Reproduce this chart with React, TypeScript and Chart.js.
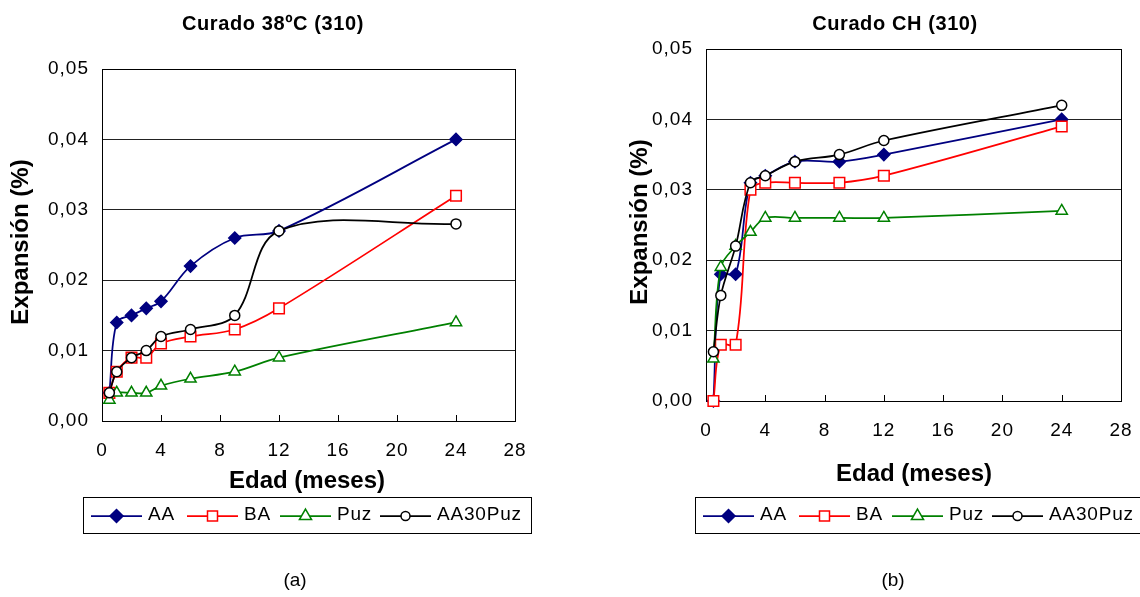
import React, { useEffect, useRef } from 'react';
import { Chart, registerables } from 'chart.js';

Chart.register(...registerables);

const FONT = "Arial, 'Liberation Sans', sans-serif";

// ---------- data ----------
const months = [0.5, 1, 2, 3, 4, 6, 9, 12, 24];
const xTickStep = 4;
const xMax = 28;
const yMax = 0.05;
const yTickStep = 0.01;
const seriesNames = ['AA', 'BA', 'Puz', 'AA30Puz'];

// Curado 38ºC (310)
const aa38 = [0.004, 0.014, 0.015, 0.016, 0.017, 0.022, 0.026, 0.027, 0.040];
const ba38 = [0.004, 0.007, 0.009, 0.009, 0.011, 0.012, 0.013, 0.016, 0.032];
const puz38 = [0.003, 0.004, 0.004, 0.004, 0.005, 0.006, 0.007, 0.009, 0.014];
const aa30puz38 = [0.004, 0.007, 0.009, 0.010, 0.012, 0.013, 0.015, 0.027, 0.028];

// Curado CH (310)
const aaCH = [0.000, 0.018, 0.018, 0.031, 0.032, 0.034, 0.034, 0.035, 0.040];
const baCH = [0.000, 0.008, 0.008, 0.030, 0.031, 0.031, 0.031, 0.032, 0.039];
const puzCH = [0.006, 0.019, 0.022, 0.024, 0.026, 0.026, 0.026, 0.026, 0.027];
const aa30puzCH = [0.007, 0.015, 0.022, 0.031, 0.032, 0.034, 0.035, 0.037, 0.042];

const titleLeft = 'Curado 38ºC (310)';
const titleRight = 'Curado CH (310)';
const yTitle = 'Expansión (%)';
const xTitle = 'Edad (meses)';

// ---------- styles ----------
const seriesStyles = [
  { color: '#000080', fill: '#000080', shape: 'rectRot', r: 6, lr: 6.5 },
  { color: '#FF0000', fill: '#FFFFFF', shape: 'rect', r: 7.5, lr: 5 },
  { color: '#008000', fill: '#FFFFFF', shape: 'triangle', r: 6.5, lr: 7 },
  { color: '#000000', fill: '#FFFFFF', shape: 'circle', r: 5, lr: 4.5 },
];

const CW = 570;
const CH = 597;
const XH = 45;

type Panel = {
  title: string;
  series: number[][];
  area: { left: number; right: number; top: number; bottom: number };
  titleX: number; titleY: number;
  yTitleX: number; yTitleY: number;
  xTitleX: number; xTitleY: number;
  legendX: number; legendY: number; legendW: number; legendH: number;
  caption: string; captionX: number; captionY: number;
};

const panels: Panel[] = [
  {
    title: titleLeft,
    series: [aa38, ba38, puz38, aa30puz38],
    area: { left: 102, right: 515, top: 69, bottom: 421 },
    titleX: 273, titleY: 24,
    yTitleX: 21, yTitleY: 242,
    xTitleX: 307, xTitleY: 481.5,
    legendX: 83, legendY: 497.5, legendW: 448, legendH: 36,
    caption: '(a)', captionX: 295, captionY: 581,
  },
  {
    title: titleRight,
    series: [aaCH, baCH, puzCH, aa30puzCH],
    area: { left: 136, right: 551, top: 49, bottom: 401 },
    titleX: 325, titleY: 24,
    yTitleX: 70, yTitleY: 222,
    xTitleX: 344, xTitleY: 474,
    legendX: 125, legendY: 497.5, legendW: 470, legendH: 36,
    caption: '(b)', captionX: 323, captionY: 581,
  },
];

const legendLineStart = [8, 104, 197, 297];
const legendLineLen = 51;
const legendTextGap = 57;

function drawMarker(ctx: CanvasRenderingContext2D, shape: string, x: number, y: number, r: number, stroke: string, fill: string, lw: number) {
  ctx.beginPath();
  if (shape === 'rectRot') {
    ctx.moveTo(x, y - r);
    ctx.lineTo(x + r, y);
    ctx.lineTo(x, y + r);
    ctx.lineTo(x - r, y);
    ctx.closePath();
  } else if (shape === 'rect') {
    ctx.rect(x - r, y - r, 2 * r, 2 * r);
  } else if (shape === 'triangle') {
    const a = (2 * Math.PI) / 3;
    ctx.moveTo(x, y - r);
    ctx.lineTo(x + Math.sin(a) * r, y - Math.cos(a) * r);
    ctx.lineTo(x + Math.sin(2 * a) * r, y - Math.cos(2 * a) * r);
    ctx.closePath();
  } else {
    ctx.arc(x, y, r, 0, Math.PI * 2);
  }
  ctx.fillStyle = fill;
  ctx.fill();
  ctx.strokeStyle = stroke;
  ctx.lineWidth = lw;
  ctx.stroke();
}

function makePlugin(p: Panel) {
  return {
    id: 'decor',
    beforeDraw(chart: any) {
      chart.ctx.letterSpacing = '1px';
    },
    beforeDatasetsDraw(chart: any) {
      const ctx: CanvasRenderingContext2D = chart.ctx;
      const a = chart.chartArea;
      ctx.save();
      ctx.strokeStyle = '#000';
      ctx.lineWidth = 1;
      ctx.strokeRect(Math.round(a.left) + 0.5, Math.round(a.top) + 0.5, Math.round(a.right - a.left), Math.round(a.bottom - a.top));
      const xs = chart.scales.x;
      ctx.beginPath();
      for (const t of xs.ticks) {
        const px = Math.round(xs.getPixelForValue(t.value)) + 0.5;
        ctx.moveTo(px, a.bottom);
        ctx.lineTo(px, a.bottom - 6);
      }
      ctx.stroke();
      ctx.restore();
    },
    afterDraw(chart: any) {
      const ctx: CanvasRenderingContext2D = chart.ctx;
      ctx.save();
      ctx.fillStyle = '#000';
      ctx.textBaseline = 'middle';
      ctx.textAlign = 'center';
      // title
      (ctx as any).letterSpacing = '0.6px';
      ctx.font = `bold 20px ${FONT}`;
      ctx.fillText(p.title, p.titleX, p.titleY);
      // axis titles
      (ctx as any).letterSpacing = '0px';
      ctx.font = `bold 24px ${FONT}`;
      ctx.fillText(xTitle, p.xTitleX, p.xTitleY);
      ctx.save();
      ctx.translate(p.yTitleX, p.yTitleY);
      ctx.rotate(-Math.PI / 2);
      ctx.fillText(yTitle, 0, 0);
      ctx.restore();
      // caption
      ctx.font = `19px ${FONT}`;
      ctx.fillText(p.caption, p.captionX, p.captionY);
      // legend
      ctx.strokeStyle = '#000';
      ctx.lineWidth = 1;
      ctx.strokeRect(p.legendX + 0.5, p.legendY, p.legendW, p.legendH);
      const cy = p.legendY + p.legendH / 2 - 1;
      ctx.textAlign = 'left';
      (ctx as any).letterSpacing = '0.8px';
      ctx.font = `19px ${FONT}`;
      seriesNames.forEach((name, i) => {
        const st = seriesStyles[i];
        const x0 = p.legendX + legendLineStart[i];
        ctx.beginPath();
        ctx.strokeStyle = st.color;
        ctx.lineWidth = 1.75;
        ctx.moveTo(x0, cy + 1.5);
        ctx.lineTo(x0 + legendLineLen, cy + 1.5);
        ctx.stroke();
        drawMarker(ctx, st.shape, x0 + legendLineLen / 2, cy + 1.5, st.lr, st.color, st.fill, 1.5);
        ctx.fillStyle = '#000';
        ctx.fillText(name, x0 + legendTextGap, cy);
      });
      ctx.restore();
    },
  };
}

function buildConfig(p: Panel): any {
  const datasets = seriesNames.map((name, i) => {
    const st = seriesStyles[i];
    return {
      label: name,
      data: months.map((m, j) => ({ x: m, y: p.series[i][j] })),
      borderColor: st.color,
      backgroundColor: st.fill,
      borderWidth: 1.75,
      pointStyle: st.shape,
      pointRadius: st.r,
      pointBorderColor: st.color,
      pointBackgroundColor: st.fill,
      pointBorderWidth: 1.5,
      tension: 0.35,
      clip: false,
      order: seriesNames.length - i,
    };
  });
  const tickFont = { size: 19, family: FONT };
  return {
    type: 'line',
    data: { datasets },
    options: {
      animation: false,
      responsive: false,
      events: [],
      layout: {
        padding: { left: 0, top: p.area.top, right: CW - p.area.right, bottom: CH - p.area.bottom - XH },
      },
      plugins: { legend: { display: false }, title: { display: false }, tooltip: { enabled: false } },
      scales: {
        x: {
          type: 'linear',
          min: 0,
          max: xMax,
          ticks: { stepSize: xTickStep, padding: 18, color: '#000', font: tickFont, maxRotation: 0, autoSkip: false },
          grid: { display: false, drawTicks: false },
          border: { display: false },
          afterFit(s: any) { s.height = XH; s.paddingLeft = 0; s.paddingRight = 0; },
        },
        y: {
          type: 'linear',
          min: 0,
          max: yMax,
          ticks: {
            stepSize: yTickStep,
            padding: 13,
            color: '#000',
            font: tickFont,
            callback: (v: any) => Number(v).toFixed(2).replace('.', ','),
          },
          grid: { color: '#222', lineWidth: 1, drawTicks: false },
          border: { display: false },
          afterFit(s: any) { s.width = p.area.left; s.paddingTop = 0; s.paddingBottom = 0; },
        },
      },
    },
    plugins: [makePlugin(p)],
  };
}

export default function App() {
  const leftRef = useRef<HTMLCanvasElement>(null);
  const rightRef = useRef<HTMLCanvasElement>(null);
  useEffect(() => {
    const c1 = new Chart(leftRef.current as HTMLCanvasElement, buildConfig(panels[0]));
    const c2 = new Chart(rightRef.current as HTMLCanvasElement, buildConfig(panels[1]));
    return () => {
      c1.destroy();
      c2.destroy();
    };
  }, []);
  return (
    <div style={{ position: 'absolute', left: 0, top: 0, width: 1140, height: 597, background: '#fff', overflow: 'hidden' }}>
      <canvas ref={leftRef} width={CW} height={CH} style={{ position: 'absolute', left: 0, top: 0, width: CW, height: CH }} />
      <canvas ref={rightRef} width={CW} height={CH} style={{ position: 'absolute', left: CW, top: 0, width: CW, height: CH }} />
    </div>
  );
}
